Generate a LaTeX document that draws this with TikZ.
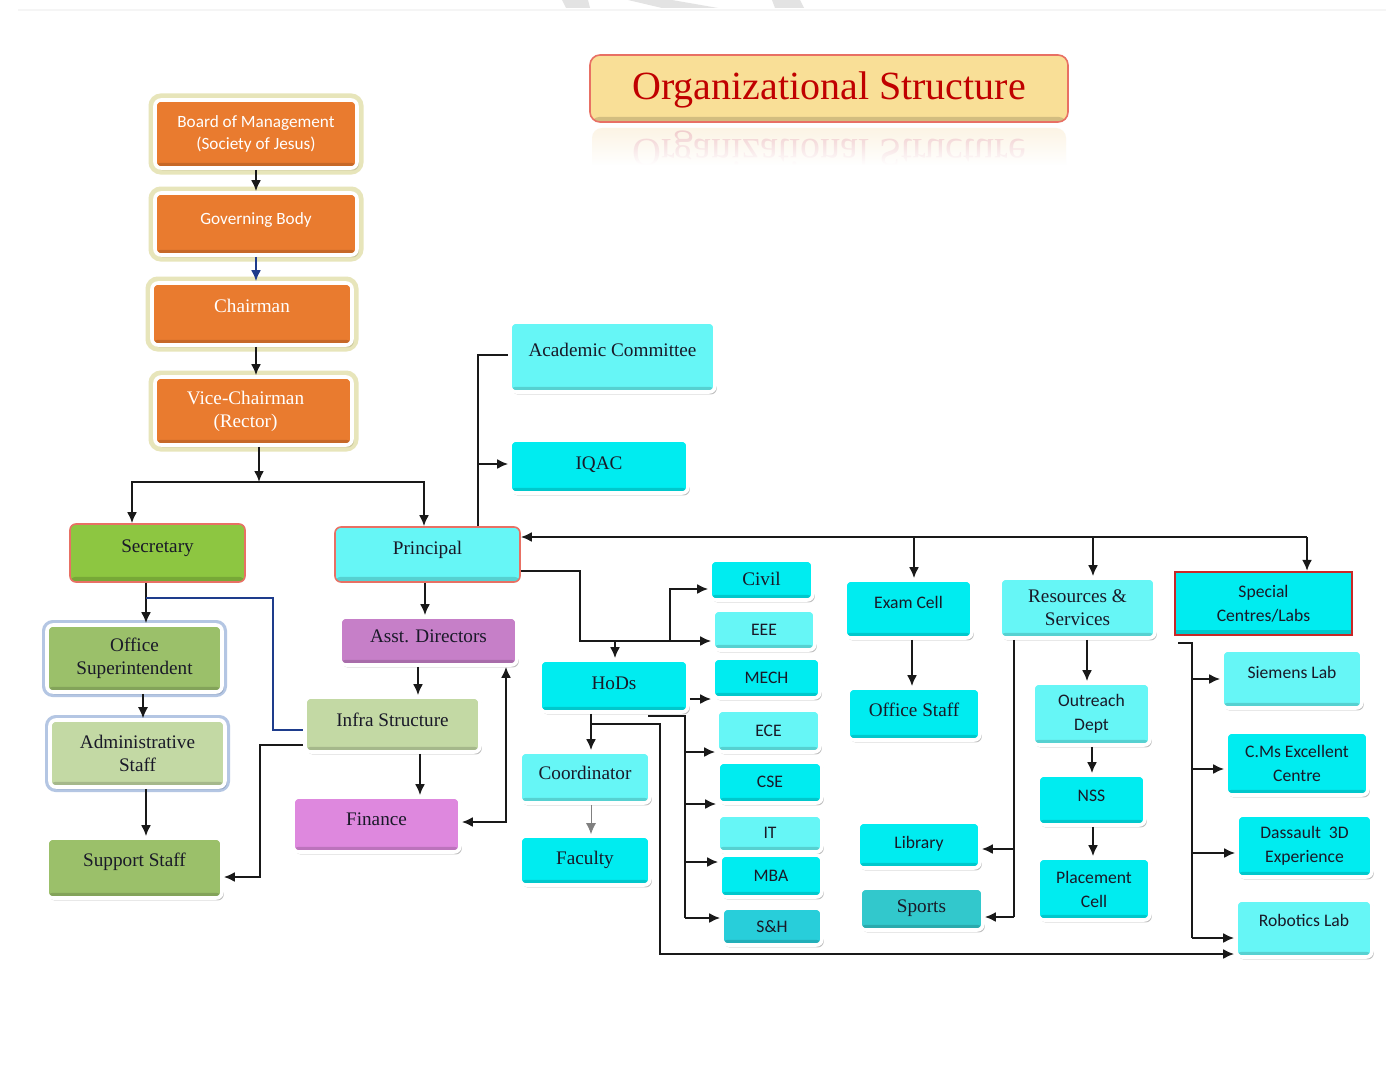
\documentclass[tikz,border=0pt]{standalone}
\usepackage{fontspec}
\usepackage{graphicx}
\setmainfont{Liberation Serif}
\newfontfamily\calfont{Carlito}
\usetikzlibrary{arrows.meta,shadows,fadings}

\definecolor{orangeF}{RGB}{233,123,47}
\definecolor{glowY}{RGB}{212,208,130}
\definecolor{glowB}{RGB}{120,152,204}
\definecolor{secG}{RGB}{141,198,65}
\definecolor{oliveG}{RGB}{155,192,106}
\definecolor{paleG}{RGB}{195,217,164}
\definecolor{cyanB}{RGB}{0,236,240}
\definecolor{cyanL}{RGB}{102,246,246}
\definecolor{tealD}{RGB}{40,206,218}
\definecolor{tealS}{RGB}{50,200,204}
\definecolor{orchid}{RGB}{198,127,200}
\definecolor{pinkP}{RGB}{222,136,222}
\definecolor{titleF}{RGB}{249,223,151}
\definecolor{titleT}{RGB}{192,0,0}
\definecolor{rim}{RGB}{232,112,100}
\definecolor{redrim}{RGB}{200,40,40}
\definecolor{ink}{RGB}{25,25,40}
\definecolor{navy}{RGB}{30,60,140}
\definecolor{mirrorT}{RGB}{238,196,196}
\definecolor{mirrorF}{RGB}{252,243,226}

\tikzfading[name=fadeup, top color=transparent!100, bottom color=transparent!0]

\tikzset{
  base/.style={rounded corners=3pt, draw=white, line width=1.8pt, align=center,
    inner sep=1pt, text=ink,
    drop shadow={shadow xshift=0.9pt, shadow yshift=-1.2pt, opacity=.25, fill=black},
    path picture={\fill[black,opacity=.15] (path picture bounding box.south west)
      rectangle ([yshift=2.6pt]path picture bounding box.south east);}},
  serif/.style={font=\fontsize{9.6}{11.5}\selectfont},
  sans/.style={font=\calfont\fontsize{8.8}{12}\selectfont},
  sansO/.style={font=\calfont\fontsize{8.6}{11}\selectfont},
  rz/.style={text height=7pt, text depth=#1},
  sz/.style n args={2}{minimum width=#1, minimum height=#2},
  orangebox/.style={base, fill=orangeF, text=white,
    preaction={draw=glowY, line width=6.5pt, opacity=.55}},
  blueglow/.style={base, preaction={draw=glowB, line width=5pt, opacity=.55}},
  redbox/.style={base, draw=rim, line width=.8pt,
    preaction={draw=white, line width=4pt}},
  squarebox/.style={base, rounded corners=0pt, draw=redrim, line width=1.1pt,
    preaction={draw=white, line width=4.5pt}},
  ln/.style={line width=1.05pt, draw=black!90},
  arr/.style={ln, -{Latex[length=5.5pt,width=5pt]}},
  biarr/.style={ln, {Latex[length=5.5pt,width=5pt]}-{Latex[length=5.5pt,width=5pt]}}
}

\begin{document}
\begin{tikzpicture}[x=0.5pt, y=-0.5pt]
\fill[white] (0,0) rectangle (1386,1070);
\useasboundingbox (0,0) rectangle (1386,1070);

% faint marks along the top edge
\draw[gray!8, line width=1pt] (18,10) -- (1386,10);
\fill[gray!22] (562,0) -- (588,0) -- (590,8) -- (566,8) -- cycle;
\fill[gray!22] (628,0) -- (672,0) -- (718,8) -- (662,8) -- cycle;
\fill[gray!22] (772,0) -- (800,0) -- (804,8) -- (775,8) -- cycle;

% title banner and its reflection
\node[base, fill=titleF, draw=rim, line width=.8pt, rounded corners=5pt,
  preaction={draw=white, line width=4.5pt}, sz={239pt}{33.5pt},
  text=titleT, font=\fontsize{20}{24}\selectfont, text height=14pt, text depth=3pt]
  (title) at (829,88.5) {Organizational Structure};
\begin{scope}
  \clip (586,126) rectangle (1072,164);
  \fill[mirrorF, rounded corners=5pt] (592,128) rectangle (1066,190);
  \node[text=mirrorT, font=\fontsize{20}{24}\selectfont] (mirror) at (829,149)
    {\scalebox{1}[-1]{Organizational Structure}};
  \fill[white, path fading=fadeup] (585,124) rectangle (1073,165);
\end{scope}

% governing chain
\node[orangebox, sansO, sz={101pt}{34pt}] (board) at (256,134)
  {Board of Management\\ (Society of Jesus)};
\node[orangebox, sansO, rz=7pt, sz={101pt}{31pt}] (gov) at (256,224) {Governing Body};
\node[orangebox, serif, rz=9pt, sz={100pt}{31pt}] (chair) at (252,314) {Chairman};
\node[orangebox, serif, sz={98.5pt}{34pt}] (vc) at (253.5,411)
  {Vice-Chairman\hspace*{8pt}\\(Rector)\hspace*{8pt}};

% secretary branch
\node[redbox, fill=secG, serif, rz=8pt, sz={87.5pt}{29pt}] (sec) at (157.5,553) {Secretary};
\node[blueglow, fill=oliveG, serif, sz={87.5pt}{33.5pt}] (osup) at (134.5,658.5)
  {Office\\Superintendent};
\node[blueglow, fill=paleG, serif, sz={87.5pt}{33.5pt}] (admin) at (137.5,753.5)
  {Administrative\\Staff};
\node[base, fill=oliveG, serif, rz=9pt, sz={87.5pt}{30pt}] (sup) at (134.5,868) {Support Staff};

% principal branch
\node[redbox, fill=cyanL, serif, rz=7.5pt, sz={92.5pt}{27.5pt}] (prin) at (427.5,554.5) {Principal};
\node[base, fill=cyanL, serif, rz=8pt, sz={102.5pt}{35pt}] (acad) at (612.5,357) {Academic Committee};
\node[base, fill=cyanB, serif, rz=4.5pt, sz={89pt}{26.5pt}] (iqac) at (599,466.5) {IQAC};
\node[base, fill=orchid, serif, rz=6pt, sz={88.5pt}{24pt}] (asst) at (428.5,641) {Asst. Directors};
\node[base, fill=paleG, serif, rz=5.5pt, sz={87.5pt}{27.5pt}] (infra) at (392.5,724.5) {Infra Structure};
\node[base, fill=pinkP, serif, rz=6.5pt, sz={83.5pt}{27.5pt}] (fin) at (376.5,824.5) {Finance};

% academic departments
\node[base, fill=cyanB, serif, rz=4pt, sz={74pt}{26pt}] (hods) at (614,686) {HoDs};
\node[base, fill=cyanL, serif, rz=5.5pt, sz={65pt}{25.5pt}] (coord) at (585,777.5) {Coordinator};
\node[base, fill=cyanB, serif, rz=3.5pt, sz={65pt}{24.5pt}] (fac) at (585,860.5) {Faculty};
\node[base, fill=cyanB, serif, rz=2pt, sz={51.5pt}{20pt}] (civil) at (761.5,580) {Civil};
\node[base, fill=cyanL, sans, rz=2pt, sz={51pt}{20pt}] (eee) at (764,630) {EEE};
\node[base, fill=cyanB, sans, rz=2pt, sz={53.5pt}{20pt}] (mech) at (766.5,678) {MECH};
\node[base, fill=cyanL, sans, rz=2pt, sz={51.5pt}{21pt}] (ece) at (768.5,731) {ECE};
\node[base, fill=cyanB, sans, rz=2pt, sz={52pt}{20.5pt}] (cse) at (770,782.5) {CSE};
\node[base, fill=cyanL, sans, rz=2pt, sz={52pt}{18.5pt}] (it) at (770,833.5) {IT};
\node[base, fill=cyanB, sans, rz=2pt, sz={51pt}{21pt}] (mba) at (771,876) {MBA};
\node[base, fill=tealD, sans, rz=1pt, sz={50pt}{18.5pt}] (sh) at (772,926.5) {S\&H};

% examinations and services
\node[base, fill=cyanB, sans, rz=8pt, sz={63.5pt}{29pt}] (exam) at (908.5,609) {Exam Cell};
\node[base, fill=cyanB, serif, rz=5pt, sz={66pt}{26pt}] (ostaff) at (914,714) {Office Staff};
\node[base, fill=cyanB, sans, rz=4pt, sz={61pt}{23pt}] (lib) at (919,845) {Library};
\node[base, fill=tealS, serif, rz=4pt, sz={61.5pt}{21pt}] (sports) at (921.5,909) {Sports};
\node[base, fill=cyanL, serif, sz={77.5pt}{30pt}] (res) at (1077.5,608) {Resources \&\\Services};
\node[base, fill=cyanL, sans, sz={58.5pt}{31pt}] (outr) at (1091.5,714) {Outreach\\Dept};
\node[base, fill=cyanB, sans, rz=6pt, sz={53.5pt}{25pt}] (nss) at (1091.5,800) {NSS};
\node[base, fill=cyanB, sans, sz={56pt}{31pt}] (place) at (1094,889) {Placement\\Cell};

% special centres
\node[squarebox, fill=cyanB, sans, sz={88.5pt}{31.5pt}] (spec) at (1263.5,603.5) {Special\\Centres/Labs};
\node[base, fill=cyanL, sans, rz=8pt, sz={70pt}{29pt}] (siem) at (1292,679) {Siemens Lab};
\node[base, fill=cyanB, sans, sz={71pt}{31.5pt}] (cms) at (1297,763.5) {C.Ms Excellent\\Centre};
\node[base, fill=cyanB, sans, sz={67.5pt}{31pt}] (dass) at (1304.5,846) {Dassault\ \ 3D\\Experience};
\node[base, fill=cyanL, sans, rz=9.5pt, sz={68pt}{28.5pt}] (rob) at (1304,928.5) {Robotics Lab};

% ---- connectors ----
\draw[arr] (board) -- (gov);
\draw[arr, draw=navy] (gov.south) -- (gov.south |- chair.north);
\draw[arr] (chair.south -| 256,0) -- (vc.north -| 256,0);
\coordinate (split) at (259,482);
\draw[arr] (vc.south -| split) -- (split);
\draw[arr] (split) -| (sec.north -| 132,0);
\draw[arr] (split) -| (prin.north -| 424,0);

% secretary side
\draw[arr] (sec.south -| 146,0) -- (osup.north -| 146,0);
\draw[ln, draw=navy] (146,598) -| (273,730) -- (infra.west |- 0,730);
\draw[arr, line width=.6pt] (osup.south -| 143,0) -- (admin.north -| 143,0);
\draw[arr] (admin.south -| 146,0) -- (sup.north -| 146,0);
\draw[arr] (infra.west |- 0,745) -| (260,877) -- (sup.east |- 0,877);

% principal side
\draw[arr] (prin.south -| 425,0) -- (asst.north -| 425,0);
\draw[arr] (asst.south -| 418,0) -- (infra.north -| 418,0);
\draw[arr] (infra.south -| 420,0) -- (fin.north -| 420,0);
\draw[biarr] (fin.east |- 0,822) -| (asst.south -| 506,0);
\draw[ln] (prin.north -| 478,0) |- (acad.west |- 0,355);
\coordinate (iqacTap) at (478,464);
\draw[arr] (iqacTap) -- (iqac.west |- iqacTap);

% feedback bus along the top
\coordinate (busR) at (1307,537);
\draw[arr] (busR) -- (prin.east |- busR);
\draw[arr] (busR) -- (spec.north -| busR);
\draw[arr] (914,537) -- (exam.north -| 914,0);
\draw[arr] (1093,537) -- (res.north -| 1093,0);

% heads of departments
\draw[ln] (prin.east |- 0,571) -| (580,641) -- (670,641);
\draw[arr] (615,641) -- (hods.north -| 615,0);
\draw[arr] (670,641) |- (civil.west |- 0,589);
\draw[arr] (670,641) -- (eee.west |- 0,641);
\draw[arr] (hods.east |- 0,699) -- (mech.west |- 0,699);
\draw[ln] (648,716) -| (685,918);
\draw[arr] (685,752) -- (ece.west |- 0,752);
\draw[arr] (685,804) -- (cse.west |- 0,804);
\draw[arr] (685,862) -- (mba.west |- 0,862);
\draw[arr] (685,918) -- (sh.west |- 0,918);
\draw[arr] (hods.south -| 591,0) -- (coord.north -| 591,0);
\draw[arr, line width=.5pt, draw=gray] (coord.south -| 591,0) -- (fac.north -| 591,0);
\draw[arr] (591,724) -| (660,954) -- (rob.west |- 0,954);

% exam cell and resources
\draw[arr] (exam.south -| 912,0) -- (ostaff.north -| 912,0);
\draw[ln] (res.south -| 1014,0) -- (1014,917);
\draw[arr] (1014,849) -- (lib.east |- 0,849);
\draw[arr] (1014,917) -- (sports.east |- 0,917);
\draw[arr] (res.south -| 1087,0) -- (outr.north -| 1087,0);
\draw[arr] (outr.south -| 1092,0) -- (nss.north -| 1092,0);
\draw[arr] (nss.south -| 1093,0) -- (place.north -| 1093,0);

% special centres fan-out
\draw[ln] (1178,643) -| (1192,938);
\draw[arr] (1192,679) -- (siem.west |- 0,679);
\draw[arr] (1192,769) -- (cms.west |- 0,769);
\draw[arr] (1192,853) -- (dass.west |- 0,853);
\draw[arr] (1192,938) -- (rob.west |- 0,938);
\end{tikzpicture}
\end{document}
